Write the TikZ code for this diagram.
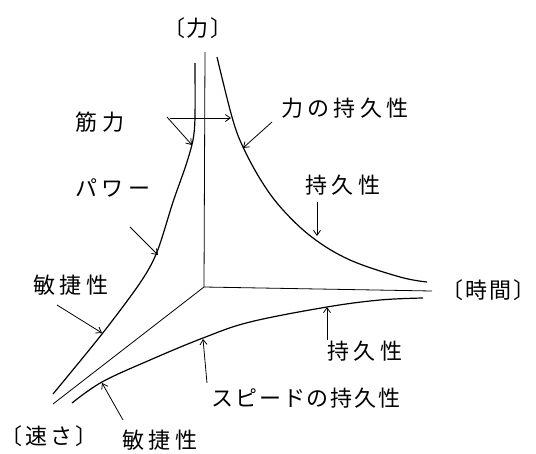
\documentclass[tikz,border=0pt]{standalone}
\usepackage{fontspec}
\usetikzlibrary{arrows.meta}
\newfontfamily\jp{Noto Sans CJK JP}[LetterSpace=20]
\newfontfamily\jpn{Noto Sans CJK JP}[LetterSpace=8]
\newfontfamily\jpz{Noto Sans CJK JP}
\tikzset{
  lbl/.style={font=\jp\fontsize{22}{24}\selectfont, inner sep=0pt},
  lbln/.style={font=\jpn\fontsize{22}{24}\selectfont, inner sep=0pt},
  lblz/.style={font=\jpz\fontsize{22}{24}\selectfont, inner sep=0pt},
  axis/.style={line width=0.8pt},
  curve/.style={line width=1.2pt},
  arr/.style={line width=0.8pt, -{Straight Barb[length=5pt,width=7pt]}}
}
\begin{document}
\begin{tikzpicture}[x=1pt,y=-1pt]
\useasboundingbox (0,0) rectangle (536,453);
% axes
\coordinate (O) at (204,287);
\coordinate (F) at (205,52);
\coordinate (T) at (432,291);
\coordinate (S) at (53,404);
\draw[axis] (O) -- (F);
\draw[axis] (O) -- (T);
\draw[axis] (O) -- (S);
% curves
\draw[curve] plot[smooth, tension=0.5] coordinates {(53,394) (102,334) (140,283) (157,252) (173,202) (186,165) (193,140) (195,117) (195,63)};
\draw[curve] plot[smooth, tension=0.6] coordinates {(217,57) (232,117) (243,147) (262,182) (283,210) (313,238) (350,260) (400,277) (427,282)};
\draw[curve] plot[smooth, tension=0.6] coordinates {(72,403) (102,382) (150,360) (203,338) (250,322) (327,307) (380,300) (423,298)};
% labels
\node[lblz] (lforce) at (198,28) {〔\kern2pt 力\kern2pt 〕};
\node[lbl] (lkin) at (100,122) {筋力};
\node[lbl] (lpow) at (113,188) {パワー};
\node[lbl] (lagi1) at (71,285) {敏捷性};
\node[lbl] (lfend) at (345,108) {力の持久性};
\node[lbl] (lend1) at (343,185) {持久性};
\node[lblz, anchor=east] (ltime) at (536,290) {〔\kern2pt 時\kern2pt 間\kern2pt 〕};
\node[lbl] (lend2) at (365,351) {持久性};
\node[lbln] (lspend) at (306,398) {スピードの持久性};
\node[lblz, anchor=west] (lspeed) at (0,436) {〔\kern3pt 速\kern3pt さ\kern3pt 〕};
\node[lbl] (lagi2) at (160,440) {敏捷性};
% arrow ends
\coordinate (a1s) at (167,117); \coordinate (a1e) at (192,145);
\coordinate (a2s) at (170,118); \coordinate (a2e) at (231,118);
\coordinate (a3s) at (130,227); \coordinate (a3e) at (158,255);
\coordinate (a4s) at (57,305);  \coordinate (a4e) at (102,333);
\coordinate (a5s) at (272,122); \coordinate (a5e) at (243,148);
\coordinate (a6s) at (317,202); \coordinate (a6e) at (317,236);
\coordinate (a7s) at (327,340); \coordinate (a7e) at (327,307);
\coordinate (a8s) at (207,383); \coordinate (a8e) at (203,339);
\coordinate (a9s) at (123,420); \coordinate (a9e) at (102,383);
\draw[arr] (a1s) -- (a1e);
\draw[arr] (a2s) -- (a2e);
\draw[arr] (a3s) -- (a3e);
\draw[arr] (a4s) -- (a4e);
\draw[arr] (a5s) -- (a5e);
\draw[arr] (a6s) -- (a6e);
\draw[arr] (a7s) -- (a7e);
\draw[arr] (a8s) -- (a8e);
\draw[arr] (a9s) -- (a9e);
\end{tikzpicture}
\end{document}
